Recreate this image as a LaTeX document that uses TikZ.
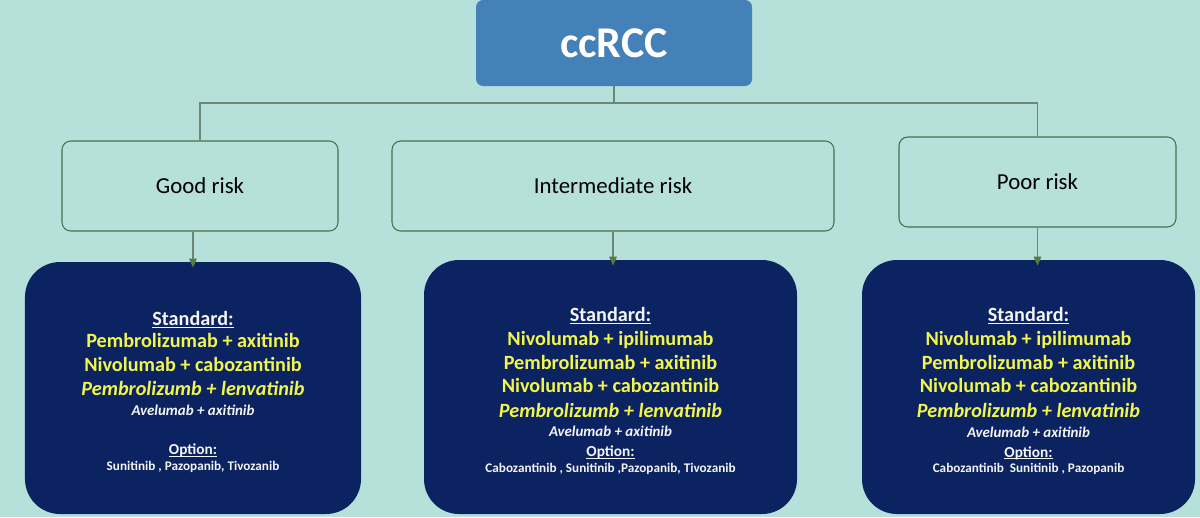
\documentclass[tikz,border=0pt]{standalone}
\usepackage{fontspec}
\setmainfont{Carlito}
\usepackage{xcolor}
\usetikzlibrary{arrows.meta,positioning,calc}
\definecolor{seafoam}{HTML}{B6E1DA}
\definecolor{steel}{HTML}{4581B9}
\definecolor{navy}{HTML}{0B2361}
\definecolor{lemon}{HTML}{F2F54A}
\definecolor{snow}{HTML}{F4F4F4}
\definecolor{moss}{HTML}{4A6E4A}
\definecolor{linegray}{HTML}{6A8878}
\definecolor{arrowgreen}{HTML}{587A3C}
\newcommand{\ulbl}[1]{\setbox0\hbox{#1}\rlap{\rule[-1.3pt]{\wd0}{0.55pt}}\box0}
\newcommand{\stdlbl}[1]{\ulbl{#1}}
\newcommand{\yline}[1]{{\color{lemon}#1}}
\newcommand{\yitline}[1]{{\color{lemon}\itshape #1}}
\newcommand{\altline}[1]{{\fontsize{8.5}{13.7}\selectfont\itshape #1}}
\newcommand{\optlbl}[1]{{\fontsize{8.7}{13.7}\selectfont\ulbl{#1}}}
\newcommand{\optline}[1]{{\fontsize{7.5}{13.7}\selectfont #1}}
\tikzset{
  rootbox/.style={fill=steel,rounded corners=4pt,minimum width=55.2mm,
                  minimum height=17.2mm,inner sep=0pt,text=white,
                  font=\fontsize{25}{29}\selectfont\bfseries},
  riskbox/.style={draw=moss,fill=seafoam,line width=0.6pt,rounded corners=5pt,
                  minimum height=18mm,inner sep=0pt,
                  font=\fontsize{13}{15}\selectfont},
  txbox/.style={fill=navy,rounded corners=7mm,inner sep=0pt},
  txlist/.style={inner sep=0pt,align=center,text=snow,
                 font=\fontsize{11.5}{13.7}\selectfont\bfseries},
  link/.style={draw=linegray,line width=0.8pt},
  downarr/.style={-{Triangle[length=1.8mm,width=1.5mm,color=arrowgreen]},
                  draw=linegray,line width=0.8pt}
}
\begin{document}
\begin{tikzpicture}[x=0.2mm,y=-0.2mm]
    \path[use as bounding box,fill=seafoam] (0,0) rectangle (1200,517);

    \node[rootbox] (root) at (614,43) {ccRCC};

    \node[riskbox,minimum width=55.2mm] (good) at (200,186) {Good risk};
    \node[riskbox,minimum width=88.4mm] (inter) at (613,186) {Intermediate risk};
    \node[riskbox,minimum width=55.4mm] (poor) at (1037.5,182) {Poor risk};

    \node[txbox,minimum width=67.2mm,minimum height=50.4mm] (goodtx) at (193,388) {};
    \node[txbox,minimum width=74.6mm,minimum height=50.8mm] (intertx) at (610.5,387) {};
    \node[txbox,minimum width=66.6mm,minimum height=50.8mm] (poortx) at (1028.5,387) {};

    \node[txlist] (goodlist) at ([yshift=-0.8mm]goodtx.center)
      {\stdlbl{Standard:}\\[-1.2pt]
       \yline{Pembrolizumab + axitinib}\\
       \yline{Nivolumab + cabozantinib}\\
       \yitline{Pembrolizumb + lenvatinib}\\[-2.3pt]
       \altline{Avelumab + axitinib}\\[8.5pt]
       \optlbl{Option:}\\[-4.8pt]
       \optline{Sunitinib , Pazopanib, Tivozanib}};
    \node[txlist] (interlist) at ([yshift=-0.8mm]intertx.center)
      {\stdlbl{Standard:}\\
       \yline{Nivolumab + ipilimumab}\\
       \yline{Pembrolizumab + axitinib}\\[-0.6pt]
       \yline{Nivolumab + cabozantinib}\\[0.5pt]
       \yitline{Pembrolizumb + lenvatinib}\\[-2.9pt]
       \altline{Avelumab + axitinib}\\[-2pt]
       \optlbl{Option:}\\[-4.6pt]
       \optline{Cabozantinib , Sunitinib ,Pazopanib, Tivozanib}};
    \node[txlist] (poorlist) at ([yshift=-0.8mm]poortx.center)
      {\stdlbl{Standard:}\\
       \yline{Nivolumab + ipilimumab}\\
       \yline{Pembrolizumab + axitinib}\\[-0.6pt]
       \yline{Nivolumab + cabozantinib}\\
       \yitline{Pembrolizumb + lenvatinib}\\[-2.3pt]
       \altline{Avelumab + axitinib}\\[-2.3pt]
       \optlbl{Option:}\\[-5pt]
       \optline{Cabozantinib~ Sunitinib , Pazopanib}};

    % tree
    \coordinate (bar) at (614,103);
    \draw[link] (root.south) -- (bar);
    \draw[link] (good.north) |- (bar -| poor.north) -- (poor.north);

    \draw[downarr] (goodtx.north |- good.south) -- ([yshift=-1.2mm]goodtx.north);
    \draw[downarr] (inter.south) -- ([yshift=-1.2mm]inter.south |- intertx.north);
    \draw[downarr] (poor.south) -- ([yshift=-1.2mm]poor.south |- poortx.north);
  \end{tikzpicture}
\end{document}
